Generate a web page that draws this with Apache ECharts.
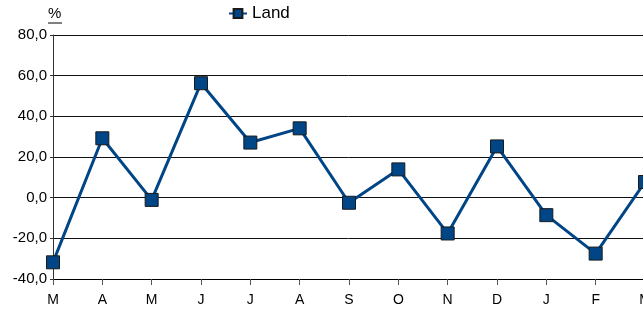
<!DOCTYPE html>
<html>
<head>
<meta charset="utf-8">
<script src="https://cdn.jsdelivr.net/npm/echarts@6/dist/echarts.min.js"></script>
<style>
  html, body { margin: 0; padding: 0; background: #fff; }
  #chart { width: 643px; height: 314px; }
</style>
</head>
<body>
<div id="chart"></div>
<script>
var months = ['M', 'A', 'M', 'J', 'J', 'A', 'S', 'O', 'N', 'D', 'J', 'F', 'M'];
var land = [-31.8, 29.2, -1.1, 56.3, 27.1, 34.1, -2.5, 13.9, -17.6, 25.2, -8.6, -27.5, 7.7];
var yTicks = { min: -40, max: 80, step: 20 };

var chart = echarts.init(document.getElementById('chart'));
var font = 'Liberation Sans, Arial, sans-serif';

chart.setOption({
    animation: false,
    textStyle: { fontFamily: font },
    grid: { left: 53, top: 35, width: 592, height: 244, containLabel: false, outerBoundsMode: 'none' },
    legend: {
        data: ['Land'],
        left: 223,
        top: 0,
        itemWidth: 18,
        itemHeight: 11,
        itemGap: 2,
        textStyle: { fontSize: 17, color: '#000', fontFamily: font }
    },
    graphic: [
        { type: 'text', left: 48, top: 6, style: { text: '%', fontSize: 15, fill: '#000', fontFamily: font } },
        { type: 'line', shape: { x1: 48, y1: 23, x2: 62, y2: 23 }, style: { stroke: '#000', lineWidth: 1 } }
    ],
    xAxis: {
        type: 'category',
        data: months,
        boundaryGap: false,
        axisLine: { onZero: false, lineStyle: { color: '#000', width: 1 } },
        axisTick: { show: true, length: 6, lineStyle: { color: '#555' } },
        axisLabel: { color: '#000', fontSize: 14, margin: 14, interval: 0 },
        splitLine: { show: false }
    },
    yAxis: {
        type: 'value',
        min: yTicks.min,
        max: yTicks.max,
        interval: yTicks.step,
        axisLine: { show: true, lineStyle: { color: '#333', width: 1 } },
        axisTick: { show: true, length: 3, lineStyle: { color: '#333' } },
        axisLabel: {
            color: '#000',
            fontSize: 15,
            margin: 6,
            formatter: function (v) { return v.toFixed(1).replace('.', ','); }
        },
        splitLine: { show: true, lineStyle: { color: '#111', width: 1 } }
    },
    series: [{
        name: 'Land',
        type: 'line',
        data: land,
        symbol: 'rect',
        symbolSize: 13,
        lineStyle: { color: '#004586', width: 3 },
        itemStyle: { color: '#004586', borderColor: '#1a1a1a', borderWidth: 1 },
        z: 3
    }]
});
</script>
</body>
</html>
